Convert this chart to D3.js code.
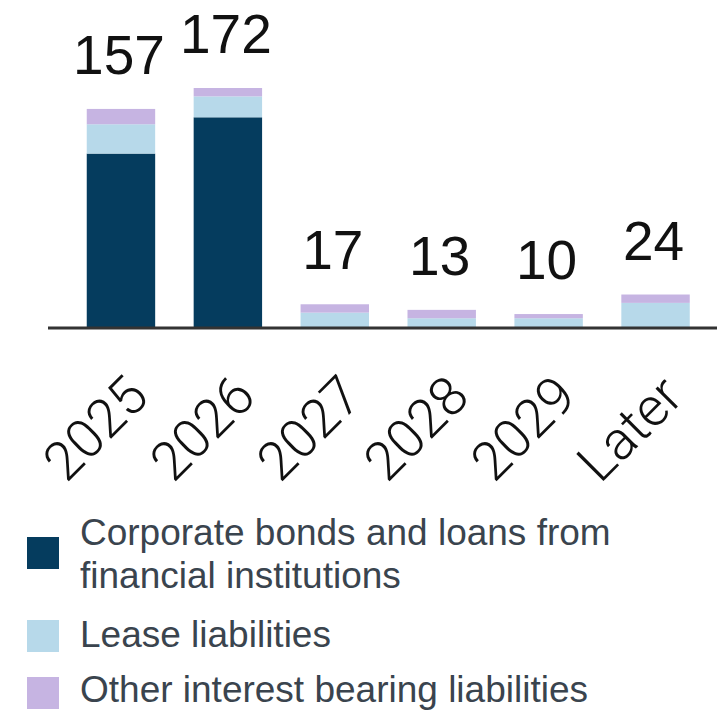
<!DOCTYPE html>
<html>
<head>
<meta charset="utf-8">
<script src="https://cdn.jsdelivr.net/npm/d3@7"></script>
<style>
  html, body { margin: 0; padding: 0; background: #ffffff; }
  svg { display: block; }
</style>
</head>
<body>
<svg id="chart" width="717" height="712"></svg>
<script>
// Maturity profile of interest bearing liabilities
const categories = ["2025", "2026", "2027", "2028", "2029", "Later"];
const corporateBonds = [125, 151, 0, 0, 0, 0];
const leaseLiabilities = [21, 15, 11, 7, 7, 18];
const otherLiabilities = [11, 6, 6, 6, 3, 6];
const totals = [157, 172, 17, 13, 10, 24];

const seriesNames = [
  "Corporate bonds and loans from financial institutions",
  "Lease liabilities",
  "Other interest bearing liabilities"
];
const legendLines = [
  ["Corporate bonds and loans from", "financial institutions"],
  ["Lease liabilities"],
  ["Other interest bearing liabilities"]
];
const colors = ["#053c5e", "#b7d9ea", "#c6b4e2"];

const rows = categories.map((c, i) => ({
  category: c,
  s0: corporateBonds[i],
  s1: leaseLiabilities[i],
  s2: otherLiabilities[i],
  total: totals[i]
}));

const svg = d3.select("#chart");
const baseY = 328;

const x = d3.scaleBand()
  .domain(categories)
  .range([67.5, 709])
  .paddingInner(0.36)
  .paddingOuter(0.18);

const y = d3.scaleLinear()
  .domain([0, 172])
  .range([baseY, 88]);

const stack = d3.stack().keys(["s0", "s1", "s2"]);
const stacked = stack(rows);

const barsG = svg.append("g");
barsG.selectAll("g.series")
  .data(stacked)
  .join("g")
  .attr("class", "series")
  .attr("fill", (d, i) => colors[i])
  .selectAll("rect")
  .data(d => d)
  .join("rect")
  .attr("x", d => x(d.data.category))
  .attr("width", x.bandwidth())
  .attr("y", d => y(d[1]))
  .attr("height", d => y(d[0]) - y(d[1]));

// baseline axis
const xAxis = d3.axisBottom(x).tickSize(0).tickFormat("");
const axisG = svg.append("g").attr("transform", `translate(0,${baseY})`).call(xAxis);
axisG.select(".domain").remove();
axisG.append("line")
  .attr("x1", 48).attr("x2", 717)
  .attr("y1", 0).attr("y2", 0)
  .attr("stroke", "#333333")
  .attr("stroke-width", 3);

// rotated category labels
svg.append("g").selectAll("text")
  .data(categories)
  .join("text")
  .attr("transform", d => `translate(${x(d) + x.bandwidth() / 2 + 30},399) rotate(-45)`)
  .attr("text-anchor", "end")
  .attr("font-family", "Roboto, Liberation Sans, sans-serif")
  .attr("font-weight", 300)
  .attr("font-size", 54)
  .attr("fill", "#111111")
  .text(d => d);

// total value labels
svg.append("g").selectAll("text")
  .data(rows)
  .join("text")
  .attr("x", d => x(d.category) + x.bandwidth() / 2 - 2)
  .attr("y", d => y(d.total) - 35)
  .attr("text-anchor", "middle")
  .attr("font-family", "Liberation Sans, Arial, sans-serif")
  .attr("font-size", 55)
  .attr("fill", "#111111")
  .text(d => d.total);

// legend
const legendTop = [537, 620, 677];
const legendBase = [545, 647, 702];
const legend = svg.append("g");
seriesNames.forEach((name, i) => {
  const g = legend.append("g");
  g.append("rect")
    .attr("x", 27).attr("y", legendTop[i])
    .attr("width", 32).attr("height", 32)
    .attr("fill", colors[i]);
  const t = g.append("text")
    .attr("font-family", "Liberation Sans, Arial, sans-serif")
    .attr("font-size", 37)
    .attr("fill", "#3a444e");
  legendLines[i].forEach((line, j) => {
    t.append("tspan")
      .attr("x", 80)
      .attr("y", legendBase[i] + j * 43)
      .text(line);
  });
});
</script>
</body>
</html>
